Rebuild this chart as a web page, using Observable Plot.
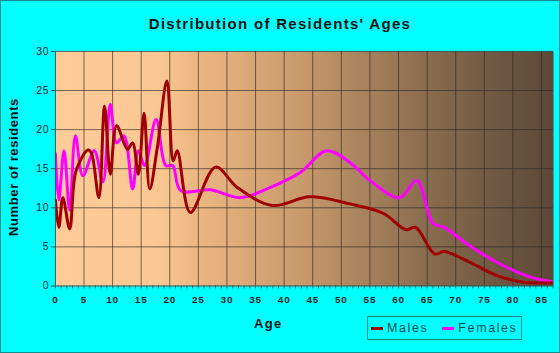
<!DOCTYPE html>
<html><head><meta charset="utf-8">
<script src="https://cdn.jsdelivr.net/npm/d3@7"></script>
<script src="https://cdn.jsdelivr.net/npm/@observablehq/plot@0.6"></script>
<style>
body{margin:0;background:#fff;}
#chart{position:relative;width:560px;height:353px;background:#00FFFF;box-sizing:border-box;border:1px solid #119090;font-family:"Liberation Sans",Arial,sans-serif;overflow:hidden;}
#plot{position:absolute;left:-1px;top:-1px;}
#title{position:absolute;left:-1px;top:14px;width:560px;text-align:center;font-size:15px;font-weight:bold;letter-spacing:1.3px;color:#111;}
#xlabel{position:absolute;left:253px;top:315px;font-size:13px;font-weight:bold;letter-spacing:1.3px;color:#111;}
#ylabel{position:absolute;left:12px;top:166px;transform:translate(-50%,-50%) rotate(-90deg);white-space:nowrap;font-size:13px;font-weight:bold;letter-spacing:0.6px;color:#111;}
#legend{position:absolute;left:366px;top:315px;width:153px;height:22px;border:1px solid #198585;display:flex;align-items:center;font-size:12.5px;letter-spacing:1.6px;color:#0e4a4a;}
.sw{display:inline-block;width:12px;height:3px;margin:0 4px 0 3px;}
</style>
</head><body>
<div id="chart">
  <div id="plot"></div>
  <div id="title">Distribution of Residents' Ages</div>
  <div id="xlabel">Age</div>
  <div id="ylabel">Number of residents</div>
  <div id="legend"><span class="sw" style="background:#A00000"></span><span>Males</span><span class="sw" style="background:#FF00FF;margin-left:14px"></span><span>Females</span></div>
</div>
<script>
const maleAges = [0,0.6,1.3,2.5,3.6,5.7,6.3,7.6,8.6,9.6,10.7,12.6,13.5,14.5,15.5,16.5,17.8,19.5,20.6,21.3,23.6,28,31.8,37.9,44.5,51.5,57.3,61.3,63,66.3,68,72.3,77,81.6,86.8];
const maleValues = [11,7.5,11.3,7.3,14.7,17.4,17,11.3,23,14.3,20.5,17.5,18.3,14.3,22.1,12.4,17.6,26.2,16,17.3,9.4,15.2,12.6,10.3,11.4,10.5,9.3,7.2,7.5,4.1,4.4,3.1,1.4,0.5,0.4];
const femaleAges = [0,0.6,1.5,2.5,3.5,4.8,6.8,8.3,9.6,10.7,12,13.5,14.5,15.6,17.6,19.3,20.5,21.9,27.1,32.3,37.6,42.8,47.4,51.5,55,60.2,63.2,66,68,72.3,77,82.8,86.8];
const femaleValues = [16.9,11,17.3,9.7,19.2,14.1,17.3,13.3,23.2,18.3,19.2,12.4,17.3,15.4,21.3,15.4,15.4,12.2,12.3,11.3,12.6,14.5,17.3,15.8,13.5,11.3,13.5,8,7.5,5.2,3.1,1.2,0.55];
const yTicks = [0,5,10,15,20,25,30];
const xTicks = [0,5,10,15,20,25,30,35,40,45,50,55,60,65,70,75,80,85];

const males = maleAges.map((a,i)=>({age:a, v:maleValues[i]}));
const females = femaleAges.map((a,i)=>({age:a, v:femaleValues[i]}));
const minor = d3.range(0, 88, 1);

const chart = Plot.plot({
  width: 560, height: 353,
  marginLeft: 55, marginRight: 6, marginTop: 51, marginBottom: 67,
  style: {background: "transparent", fontFamily: "Liberation Sans, Arial, sans-serif"},
  x: {domain: [0, 87.1]},
  y: {domain: [0, 30]},
  marks: [
    Plot.frame({fill: "url(#bgGrad)", stroke: null}),
    Plot.ruleX(xTicks.filter(d => d > 0), {stroke: "#2e2a26", strokeOpacity: 0.65}),
    Plot.ruleY(yTicks.filter(d => d > 0), {stroke: "#2e2a26", strokeOpacity: 0.65}),
    Plot.line(females, {x: "age", y: "v", curve: "catmull-rom", stroke: "#FF00FF", strokeWidth: 3, clip: true}),
    Plot.line(males, {x: "age", y: "v", curve: "catmull-rom", stroke: "#A00000", strokeWidth: 3, clip: true}),
    Plot.ruleX([0], {stroke: "#2f5a5a"}),
    Plot.ruleY([0], {stroke: "#2f5a5a"}),
    Plot.axisX(minor, {tickSize: 3, tickPadding: 7, stroke: "#2f5a5a", tickFormat: d => d % 5 === 0 ? d : "", fontSize: 10, fontWeight: "bold", fill: "#222", label: null}),
    Plot.axisY(yTicks, {tickSize: 4, tickPadding: 2, stroke: "#2f5a5a", fontSize: 10.5, fill: "#222", label: null})
  ]
});
const svg = d3.select(chart);
const grad = svg.insert("defs", ":first-child").append("linearGradient").attr("id", "bgGrad").attr("x1", 0).attr("x2", 1).attr("y1", 0).attr("y2", 0);
[[0,"#FFCC99"],[0.2,"#FBC894"],[0.29,"#EBB581"],[0.49,"#C99A6C"],[0.73,"#8C6E50"],[1,"#5B4838"]].forEach(([o,c]) => grad.append("stop").attr("offset", o).attr("stop-color", c));
svg.selectAll("text").attr("letter-spacing", "0.8");
document.getElementById("plot").appendChild(chart);
</script>
</body></html>
